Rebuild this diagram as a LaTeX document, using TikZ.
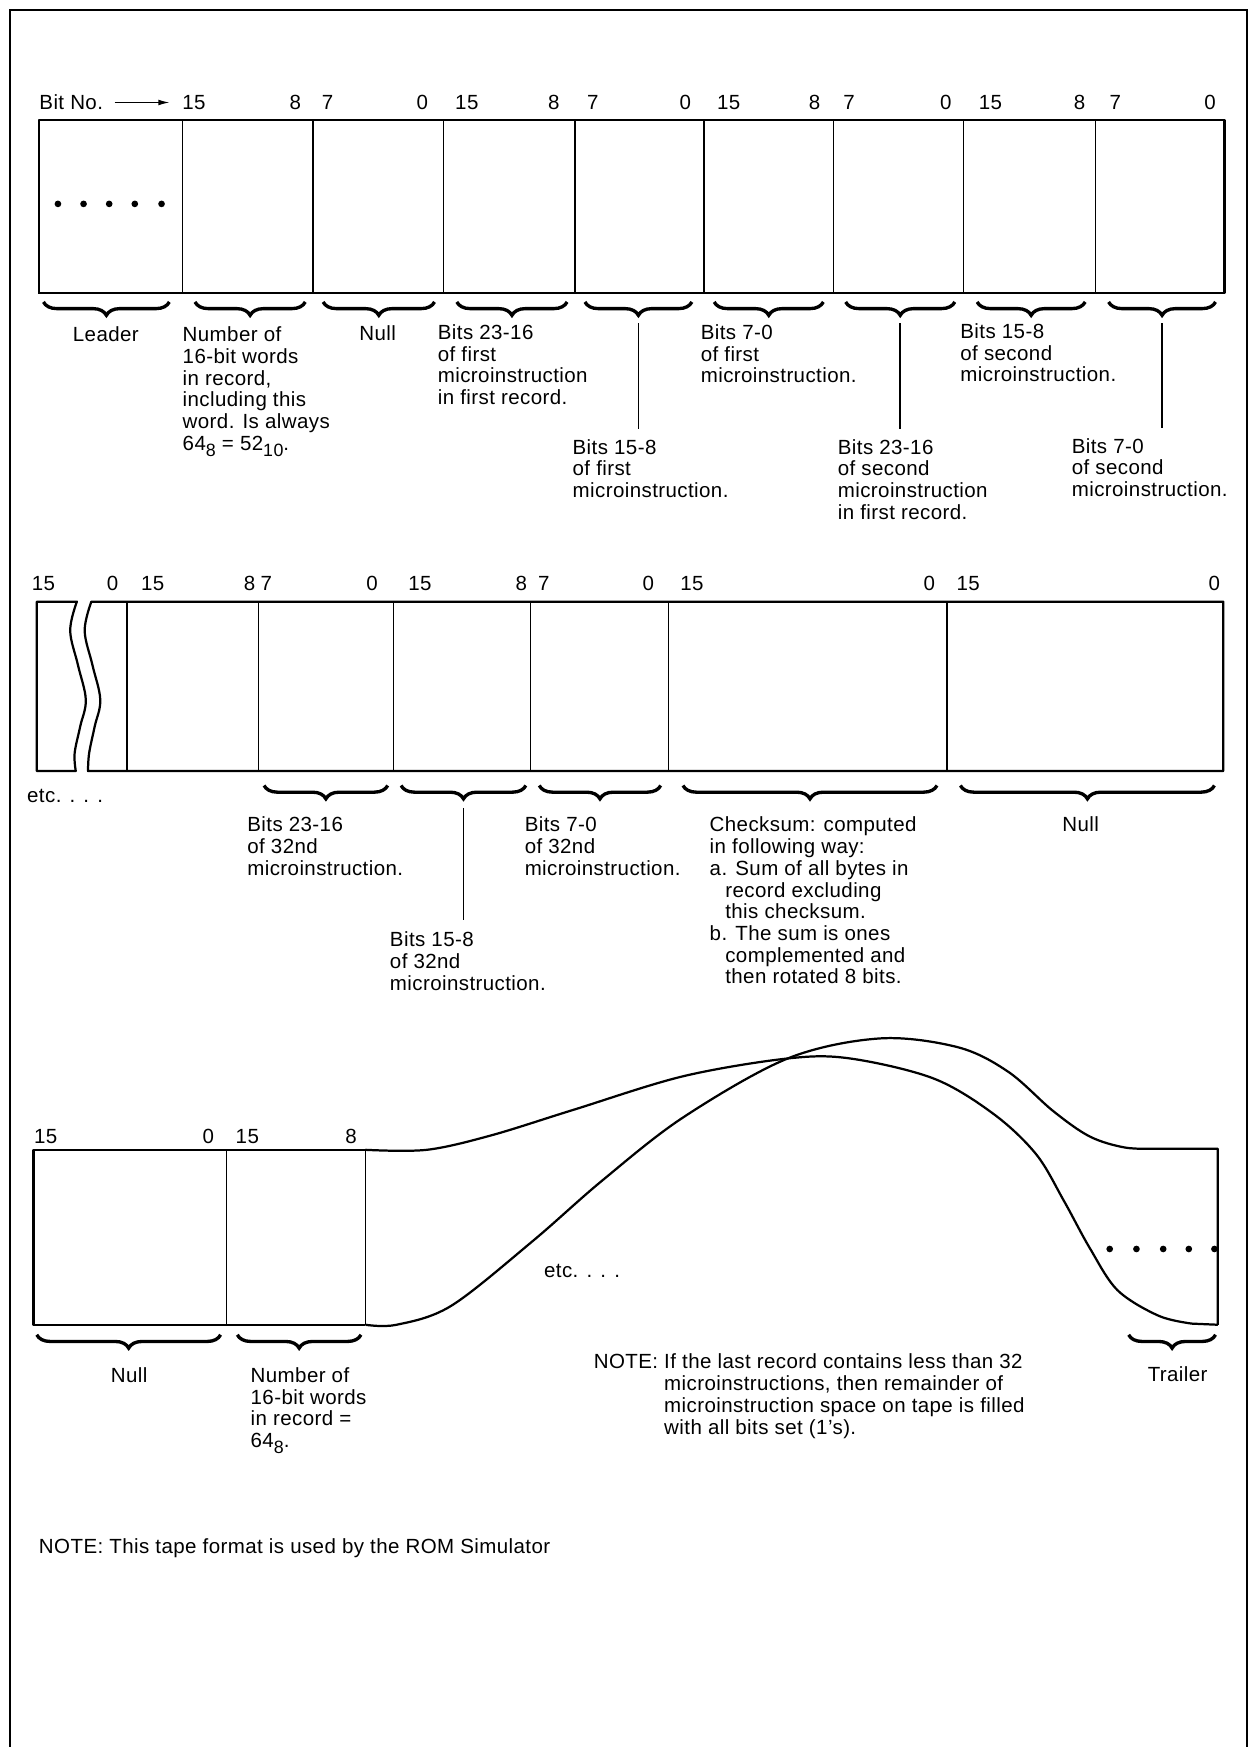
\documentclass[tikz,border=0pt]{standalone}
\usepackage{fontspec}
\setmainfont[LetterSpace=2.0]{Liberation Sans}
\usetikzlibrary{decorations.pathreplacing,calc,arrows.meta}
\newcommand\lblfont{\fontsize{9.2}{9.75}\selectfont}
\newcommand\sbs[1]{\raisebox{-2.6pt}{\fontsize{8}{8}\selectfont #1}}
\newcommand\fieldnode[5]{\node[fieldbox,minimum width={(#4-#2)*0.5pt},minimum height={(#5-#3)*0.5pt}] (#1) at ({(#2+#4)/2},{(#3+#5)/2}) {};}
\newcommand\bracefield[5]{%
  \draw[tapebrace] ($(#1.south west)+(#2,#4)$) -- ($(#1.south east)+(-#3,#4)$);
  \path ($(#1.south west)+(#2,#4)$) -- ($(#1.south east)+(-#3,#4)$) coordinate[pos=0.5] (#5);}
\begin{document}
\begin{tikzpicture}[x=0.5pt,y=-0.5pt,
  fieldbox/.style={draw,line width=0.6pt,inner sep=0pt,outer sep=0pt},
  outline/.style={line width=1pt,line join=round},
  frameline/.style={line width=1.1pt},
  tapebrace/.style={decorate,decoration={brace,mirror,amplitude=6pt},line width=1.5pt},
  pointer/.style={line width=0.8pt},
  bitnum/.style={anchor=base,inner sep=0pt,font=\lblfont},
  lbl/.style={anchor=north west,inner sep=0pt,outer sep=0pt,align=left,font=\lblfont},
  clbl/.style={anchor=base,inner sep=0pt,font=\lblfont},
  wlbl/.style={anchor=base west,inner sep=0pt,font=\lblfont},
  dotm/.style={circle,fill,inner sep=0pt,minimum size=3pt}]
\useasboundingbox (0,0) rectangle (1125,1568);
\draw[frameline] (9,1568) -- (9,9) -- (1119,9) -- (1119,1568);

% ---------------- Row 1 ----------------
\node[wlbl] (bitno) at (35,98.6) {Bit No.};
\foreach \n/\x/\t in {1/174/15,2/265/8,3/294/7,4/379/0,5/419/15,6/497/8,7/532/7,8/615/0,9/654/15,10/731/8,11/762/7,12/849/0,13/889/15,14/969/8,15/1001/7,16/1086/0}
  \node[bitnum] (ra\n) at (\x,98.6) {\t};
\draw[line width=0.6pt,-{Latex[length=5pt,width=2.6pt]}] ($(bitno.base east)+(10,-6.6)$) -- ($(ra1.base west)+(-11,-6.6)$);

\fieldnode{a1}{35}{108}{164}{263}
\fieldnode{a2}{164}{108}{281}{263}
\fieldnode{a3}{281}{108}{398}{263}
\fieldnode{a4}{398}{108}{516}{263}
\fieldnode{a5}{516}{108}{632}{263}
\fieldnode{a6}{632}{108}{748}{263}
\fieldnode{a7}{748}{108}{865}{263}
\fieldnode{a8}{865}{108}{983}{263}
\fieldnode{a9}{983}{108}{1099}{263}
\draw[outline] (a1.north west) rectangle (a9.south east);
\foreach \x in {52,75,98,121,145} \node[dotm] (ld\x) at (\x,183) {};

\bracefield{a1}{4}{12}{8}{ta1}
\bracefield{a2}{11}{7}{8}{ta2}
\bracefield{a3}{9}{8}{8}{ta3}
\bracefield{a4}{12}{7}{8}{ta4}
\bracefield{a5}{9}{11}{8}{ta5}
\bracefield{a6}{9}{9}{8}{ta6}
\bracefield{a7}{11}{8}{8}{ta7}
\bracefield{a8}{12}{9}{8}{ta8}
\bracefield{a9}{12}{8}{8}{ta9}

\node[clbl] (l1) at (95,306.6) {Leader};
\node[lbl] (l2) at (164,293) {\strut Number of\\16-bit words\\in record,\\including this\\word. Is always\\64\sbs{8} = 52\sbs{10}.};
\node[clbl] (l3) at (339,305.6) {Null};
\node[lbl] (l4) at (393,291) {\strut Bits 23-16\\of first\\microinstruction\\in first record.};
\node[lbl] (l5) at (514,394) {\strut Bits 15-8\\of first\\microinstruction.};
\node[lbl] (l6) at (629,291) {\strut Bits 7-0\\of first\\microinstruction.};
\node[lbl] (l7) at (752,394) {\strut Bits 23-16\\of second\\microinstruction\\in first record.};
\node[lbl] (l8) at (862,290) {\strut Bits 15-8\\of second\\microinstruction.};
\node[lbl] (l9) at (962,393) {\strut Bits 7-0\\of second\\microinstruction.};
\draw[pointer] ($(ta5)+(0,19)$) -- ($(ta5 |- l5.north)+(0,-9)$);
\draw[pointer] ($(ta7)+(0,19)$) -- ($(ta7 |- l7.north)+(0,-9)$);
\draw[pointer] ($(ta9)+(0,19)$) -- ($(ta9 |- l9.north)+(0,-9)$);

% ---------------- Row 2 ----------------
\foreach \n/\x/\t in {1/39/15,2/101/0,3/137/15,4/224/8,5/239/7,6/334/0,7/377/15,8/468/8,9/488/7,10/582/0,11/621/15,12/834/0,13/869/15,14/1090/0}
  \node[bitnum] (rb\n) at (\x,529.6) {\t};
\fieldnode{b1}{114}{540}{232}{692}
\fieldnode{b2}{232}{540}{353}{692}
\fieldnode{b3}{353}{540}{476}{692}
\fieldnode{b4}{476}{540}{600}{692}
\fieldnode{b5}{600}{540}{850}{692}
\fieldnode{b6}{850}{540}{1098}{692}
\draw[outline] plot[smooth,tension=0.6] coordinates {(79,692) (80,676) (85,652) (90,628) (83,597) (76,566) (82,540)} -- (b6.north east) -- (b6.south east) -- cycle;
\draw[outline] plot[smooth,tension=0.6] coordinates {(69,540) (63,566) (70,597) (77,628) (72,652) (67,676) (68,692)} -- (33,692) -- (33,540) -- cycle;

\bracefield{b2}{5}{5}{13}{tb2}
\bracefield{b3}{7}{4}{13}{tb3}
\bracefield{b4}{8}{7}{13}{tb4}
\bracefield{b5}{13}{9}{13}{tb5}
\bracefield{b6}{12}{8}{13}{tb6}

\node[wlbl] (etc1) at (24,720) {etc. . . .};
\node[lbl] (m2) at (222,733) {\strut Bits 23-16\\of 32nd\\microinstruction.};
\node[lbl] (m3) at (350,836) {\strut Bits 15-8\\of 32nd\\microinstruction.};
\node[lbl] (m4) at (471,733) {\strut Bits 7-0\\of 32nd\\microinstruction.};
\node[lbl] (m5) at (637,733) {\strut Checksum: computed\\in following way:\\a. Sum of all bytes in\\\hspace*{7pt}record excluding\\\hspace*{7pt}this checksum.\\b. The sum is ones\\\hspace*{7pt}complemented and\\\hspace*{7pt}then rotated 8 bits.};
\node[clbl] (m6) at (970,746.6) {Null};
\draw[pointer] ($(tb3)+(0,20)$) -- ($(tb3 |- m3.north)+(0,-10)$);

% ---------------- Row 3 ----------------
\foreach \n/\x/\t in {1/41/15,2/187/0,3/222/15,4/315/8}
  \node[bitnum] (rc\n) at (\x,1026.6) {\t};
\fieldnode{c1}{30}{1032}{203}{1189}
\fieldnode{c2}{203}{1032}{328}{1189}
\draw[outline] (c2.north east) -- (c1.north west) -- (c1.south west) -- (c2.south east);
\coordinate (trTop) at (1093,1031);
\coordinate (trBot) at (1093,1189);
% upper-left edge: gentle arc ending at the trailer bottom
\draw[outline] plot[smooth,tension=0.55] coordinates {(c2.north east) (383,1032) (441,1019) (515,996) (613,966) (707,950) (763,950) (838,968) (892,1000) (930,1036) (955,1078) (978,1120) (1003,1158) (1040,1181) (1070,1188)} -- (trBot);
% lower-left edge: steep arc ending at the trailer top
\draw[outline] plot[smooth,tension=0.55] coordinates {(c2.south east) (356,1189) (405,1172) (478,1114) (540,1060) (613,1003) (707,950) (790,932) (860,940) (905,962) (945,997) (978,1020) (1010,1030) (1040,1031)} -- (trTop) -- (trBot);
\foreach \x in {996,1020,1044,1067,1090} \node[dotm] (td\x) at (\x,1121) {};

\bracefield{c1}{3}{5}{9}{tc1}
\bracefield{c2}{10}{4}{9}{tc2}
\coordinate (trL) at (1013,1198);
\coordinate (trR) at (1091,1198);
\draw[tapebrace] (trL) -- (trR);

\node[wlbl] (etc2) at (488,1147) {etc. . . .};
\node[clbl] (n1) at (116,1240.6) {Null};
\node[lbl] (n2) at (225,1227) {\strut Number of\\16-bit words\\in record =\\64\sbs{8}.};
\node[clbl] (tr) at (1057,1239.6) {Trailer};
\node[lbl] (note1) at (533,1215) {\strut NOTE: If the last record contains less than 32\\\hphantom{NOTE: }microinstructions, then remainder of\\\hphantom{NOTE: }microinstruction space on tape is filled\\\hphantom{NOTE: }with all bits set (1's).};
\node[lbl] (note2) at (35,1381) {\strut NOTE: This tape format is used by the ROM Simulator};
\end{tikzpicture}
\end{document}
